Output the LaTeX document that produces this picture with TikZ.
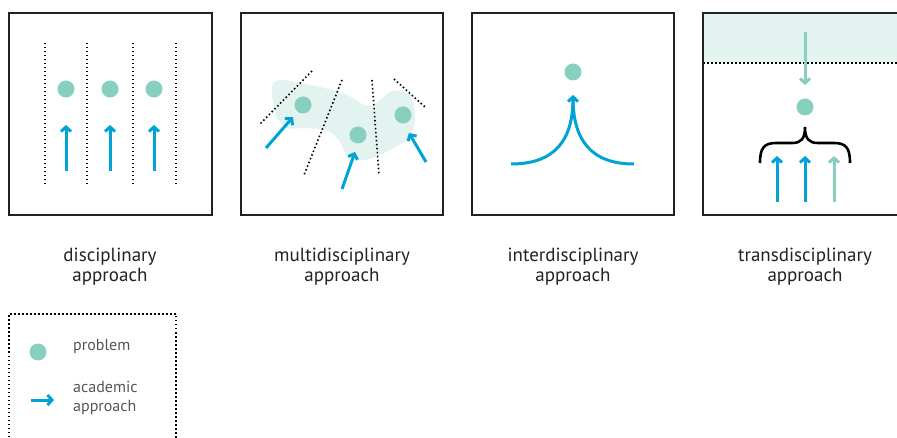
\documentclass[tikz,border=0pt]{standalone}
\usepackage{fontspec}
\setmainfont{PT Sans}
\usetikzlibrary{arrows.meta}
\definecolor{appblue}{HTML}{00A3D3}
\definecolor{probteal}{HTML}{87CFBF}
\definecolor{paleteal}{HTML}{E3F3EF}
\definecolor{framegray}{HTML}{222222}
\definecolor{leggray}{HTML}{555555}

\begin{document}
\begin{tikzpicture}[x=1pt, y=-1pt,
panel/.style={draw=framegray, line width=1.3pt},
prob/.style={circle, fill=probteal, minimum size=17pt, inner sep=0pt},
appr/.style={draw=appblue, line width=3pt, -{Straight Barb[length=4.5pt, width=10pt]}},
tealappr/.style={appr, draw=probteal},
sep/.style={draw=black, line width=1.6pt, dash pattern=on 1.5pt off 2.5pt},
caption/.style={align=center, text=framegray, font=\fontsize{19}{20}\selectfont},
legtext/.style={align=left, text=leggray, font=\fontsize{16}{19}\selectfont}]
 \clip (0,0) rectangle (897,438);

 % disciplinary
 \draw[panel] (9,13) rectangle (212,215);
 \foreach \x [count=\i] in {45,87,133,176} {
   \coordinate (d\i t) at (\x,43); \coordinate (d\i b) at (\x,185);
   \draw[sep] (d\i t) -- (d\i b);
 }
 \foreach \x [count=\i] in {66,110,154} {
   \node[prob] (p\i) at (\x,89) {};
   \coordinate (a\i s) at (\x,171); \coordinate (a\i e) at (\x,125);
   \draw[appr] (a\i s) -- (a\i e);
 }

 % multidisciplinary
 \draw[panel] (241,13) rectangle (443,215);
 \fill[paleteal] plot[smooth cycle, tension=0.6] coordinates {(272,86) (282,80) (300,83) (320,87) (345,94)
   (370,106) (392,91) (410,96) (415,115) (410,136) (390,150) (365,160) (348,157) (340,142) (328,131)
   (305,128) (288,128) (276,115)};
 \coordinate (m1t) at (312,71); \coordinate (m1b) at (260,124);
 \coordinate (m2t) at (342,80); \coordinate (m2b) at (304,175);
 \coordinate (m3t) at (372,80); \coordinate (m3b) at (379,175);
 \coordinate (m4t) at (394,79); \coordinate (m4b) at (425,107);
 \foreach \i in {1,...,4} \draw[sep] (m\i t) -- (m\i b);
 \node[prob] (q1) at (303,105) {};
 \node[prob] (q2) at (358,135) {};
 \node[prob] (q3) at (403,115) {};
 \coordinate (b1s) at (266,148); \coordinate (b1e) at (293,117);
 \coordinate (b2s) at (342,189); \coordinate (b2e) at (355,152);
 \coordinate (b3s) at (426,162); \coordinate (b3e) at (409,133);
 \foreach \i in {1,2,3} \draw[appr] (b\i s) -- (b\i e);

 % interdisciplinary
 \draw[panel] (472,13) rectangle (674,215);
 \node[prob] (r1) at (573,72) {};
 \coordinate (c3l) at (511,164); \coordinate (c3r) at (634,164); \coordinate (c3tip) at (573,95);
 \draw[appr] (c3l) .. controls (555,164) and (573,140) .. (c3tip);
 \draw[appblue, line width=3pt, shorten >=3pt] (c3r) .. controls (591,164) and (573,140) .. (c3tip);

 % transdisciplinary
 \fill[paleteal] (703,13) rectangle (900,63);
 \coordinate (bandl) at (703,63); \coordinate (bandr) at (900,63);
 \draw[sep, line width=1.3pt] (bandl) -- (bandr);
 \draw[panel] (900,13) -- (703,13) -- (703,215) -- (900,215);
 \node[prob] (s1) at (805,107) {};
 \coordinate (tds) at (805,32); \coordinate (tde) at (805,85);
 \draw[tealappr] (tds) -- (tde);
 \draw[black, line width=2.6pt] (760,163) .. controls (760,148) and (764,143) .. (776,143) -- (792,143)
   .. controls (801,143) and (805,139) .. (805,127) .. controls (805,139) and (809,143) .. (818,143)
   -- (834,143) .. controls (846,143) and (850,148) .. (850,163);
 \foreach \x [count=\i] in {777,805,834} {
   \coordinate (t\i s) at (\x,202); \coordinate (t\i e) at (\x,156);
 }
 \draw[appr] (t1s) -- (t1e);
 \draw[appr] (t2s) -- (t2e);
 \draw[tealappr] (t3s) -- (t3e);

 % captions
 \node[caption] (lab1) at (110,267) {disciplinary\\approach};
 \node[caption] (lab2) at (342,267) {multidisciplinary\\approach};
 \node[caption] (lab3) at (573,267) {interdisciplinary\\approach};
 \node[caption] (lab4) at (805,267) {transdisciplinary\\approach};

 % legend
 \draw[sep, line width=1.3pt] (9,445) -- (9,314) -- (176,314) -- (176,445);
 \node[prob] (legprob) at (38,352) {};
 \node[legtext, anchor=base west, inner sep=0pt] (legprobtxt) at (73,350) {problem};
 \coordinate (legas) at (31,400); \coordinate (legae) at (54,400);
 \draw[appr] (legas) -- (legae);
 \node[legtext, anchor=west, inner sep=0pt] (legapprtxt) at (73,398) {academic\\approach};
\end{tikzpicture}
\end{document}
